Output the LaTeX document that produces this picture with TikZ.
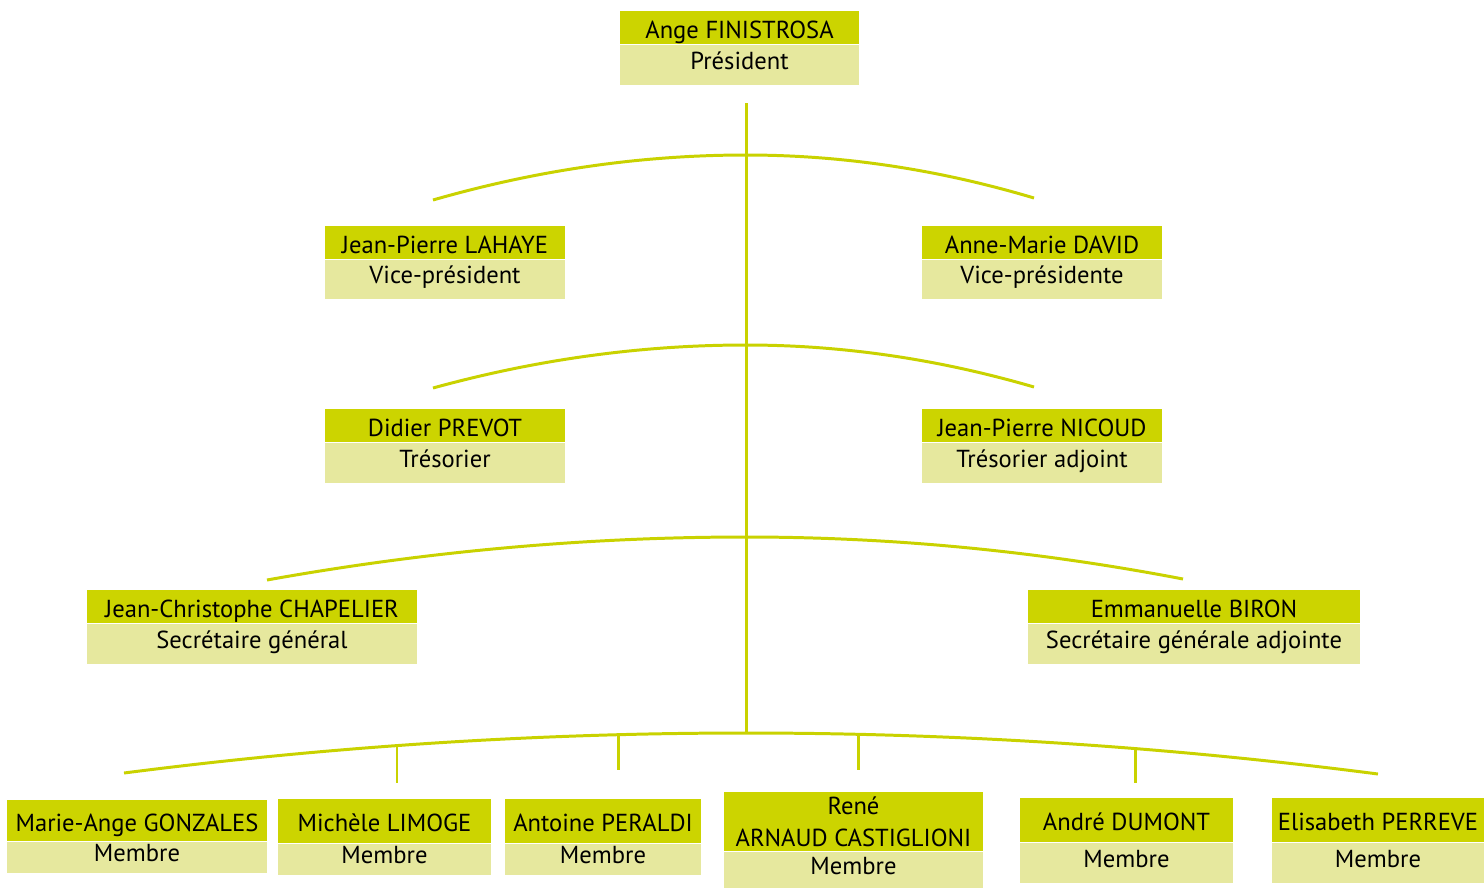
\documentclass[tikz,border=0pt]{standalone}
\usepackage{fontspec}
\setmainfont{PT Sans}
\definecolor{bandvert}{RGB}{204,212,0}
\definecolor{bandclair}{RGB}{230,232,158}
\definecolor{trait}{RGB}{201,210,0}

\begin{document}
\begin{tikzpicture}[x=0.02cm,y=-0.02cm,
    nom/.style={fill=bandvert, anchor=north, inner sep=0pt, text height=13pt, text depth=1pt, font=\fontsize{14}{16}\selectfont},
    role/.style={fill=bandclair, anchor=north, inner sep=0pt, text height=9pt, text depth=4pt, font=\fontsize{14}{16}\selectfont},
    lien/.style={draw=trait, line width=1.7pt}]
        \useasboundingbox (0,0) rectangle (1484,887);

        \node [nom, minimum width=4.78cm, minimum height=0.66cm] (pres) at (739.5,11) {Ange FINISTROSA};
        \node [role, minimum width=4.78cm, minimum height=0.8cm] (presr) at (pres.south) {Président};

        \node [nom, minimum width=4.8cm, minimum height=0.66cm] (lahaye) at (445,226) {Jean-Pierre LAHAYE};
        \node [role, minimum width=4.8cm, minimum height=0.78cm] (lahayer) at (lahaye.south) {Vice-président};
        \node [nom, minimum width=4.8cm, minimum height=0.66cm] (david) at (1042,226) {Anne-Marie DAVID};
        \node [role, minimum width=4.8cm, minimum height=0.78cm] (davidr) at (david.south) {Vice-présidente};

        \node [nom, minimum width=4.8cm, minimum height=0.66cm] (prevot) at (445,409) {Didier PREVOT};
        \node [role, minimum width=4.8cm, minimum height=0.8cm] (prevotr) at (prevot.south) {Trésorier};
        \node [nom, minimum width=4.8cm, minimum height=0.66cm] (nicoud) at (1042,409) {Jean-Pierre NICOUD};
        \node [role, minimum width=4.8cm, minimum height=0.8cm] (nicoudr) at (nicoud.south) {Trésorier adjoint};

        \node [nom, minimum width=6.6cm, minimum height=0.66cm] (chapelier) at (252,590) {Jean-Christophe CHAPELIER};
        \node [role, minimum width=6.6cm, minimum height=0.8cm] (chapelierr) at (chapelier.south) {Secrétaire général};
        \node [nom, minimum width=6.64cm, minimum height=0.66cm] (biron) at (1194,590) {Emmanuelle BIRON};
        \node [role, minimum width=6.64cm, minimum height=0.8cm] (bironr) at (biron.south) {Secrétaire générale adjointe};

        \node [nom, minimum width=5.2cm, minimum height=0.82cm] (gonzales) at (137,800) {Marie-Ange GONZALES};
        \node [role, minimum width=5.2cm, minimum height=0.62cm] (gonzalesr) at (gonzales.south) {Membre};
        \node [nom, minimum width=4.26cm, minimum height=0.88cm] (limoge) at (384.5,799) {Michèle LIMOGE};
        \node [role, minimum width=4.26cm, minimum height=0.62cm] (limoger) at (limoge.south) {Membre};
        \node [nom, minimum width=3.92cm, minimum height=0.88cm] (peraldi) at (603,799) {Antoine PERALDI};
        \node [role, minimum width=3.92cm, minimum height=0.62cm] (peraldir) at (peraldi.south) {Membre};
        \node [nom, minimum width=5.18cm, minimum height=1.18cm, align=center, text height=, text depth=, font=\fontsize{14}{18}\selectfont] (castiglioni) at (853.5,792) {René\\ARNAUD CASTIGLIONI};
        \node [role, minimum width=5.18cm, minimum height=0.72cm] (castiglionir) at (castiglioni.south) {Membre};
        \node [nom, minimum width=4.26cm, minimum height=0.88cm] (dumont) at (1126.5,798) {André DUMONT};
        \node [role, minimum width=4.26cm, minimum height=0.8cm] (dumontr) at (dumont.south) {Membre};
        \node [nom, minimum width=4.24cm, minimum height=0.88cm] (perreve) at (1378,798) {Elisabeth PERREVE};
        \node [role, minimum width=4.24cm, minimum height=0.8cm] (perrever) at (perreve.south) {Membre};

        \coordinate (tronc) at (746,103);
        \coordinate (a1l) at (433,200);
        \coordinate (a1c) at (746,155);
        \coordinate (a1r) at (1034,198);
        \coordinate (a2l) at (433,388);
        \coordinate (a2c) at (746,345);
        \coordinate (a2r) at (1034,387);
        \coordinate (a3l) at (267,580);
        \coordinate (a3c) at (746,537);
        \coordinate (a3r) at (1183,579);
        \coordinate (a4l) at (124,773);
        \coordinate (a4c) at (746,733);
        \coordinate (a4r) at (1378,774);

        \draw [lien] (tronc) -- (a4c);
        \draw [lien] (a1l) .. controls (537.3,170) and (641.7,155) .. (a1c) .. controls (842,155) and (938,169.3) .. (a1r);
        \draw [lien] (a2l) .. controls (537.3,359.3) and (641.7,345) .. (a2c) .. controls (842,345) and (938,359) .. (a2r);
        \draw [lien] (a3l) .. controls (426.7,551.3) and (586.3,537) .. (a3c) .. controls (891.7,537) and (1037.3,551) .. (a3r);
        \draw [lien] (a4l) .. controls (331.3,746.3) and (538.7,733) .. (a4c) .. controls (956.7,733) and (1167.3,746.7) .. (a4r);

        \coordinate (b1) at (397,745.6);
        \coordinate (b2) at (618,734.7);
        \coordinate (b3) at (858,734.3);
        \coordinate (b4) at (1135,748.5);
        \draw [lien] (b1) -- (b1 |- 0,783);
        \draw [lien] (b2) -- (b2 |- 0,770);
        \draw [lien] (b3) -- (b3 |- 0,770);
        \draw [lien] (b4) -- (b4 |- 0,783);
      \end{tikzpicture}
\end{document}
